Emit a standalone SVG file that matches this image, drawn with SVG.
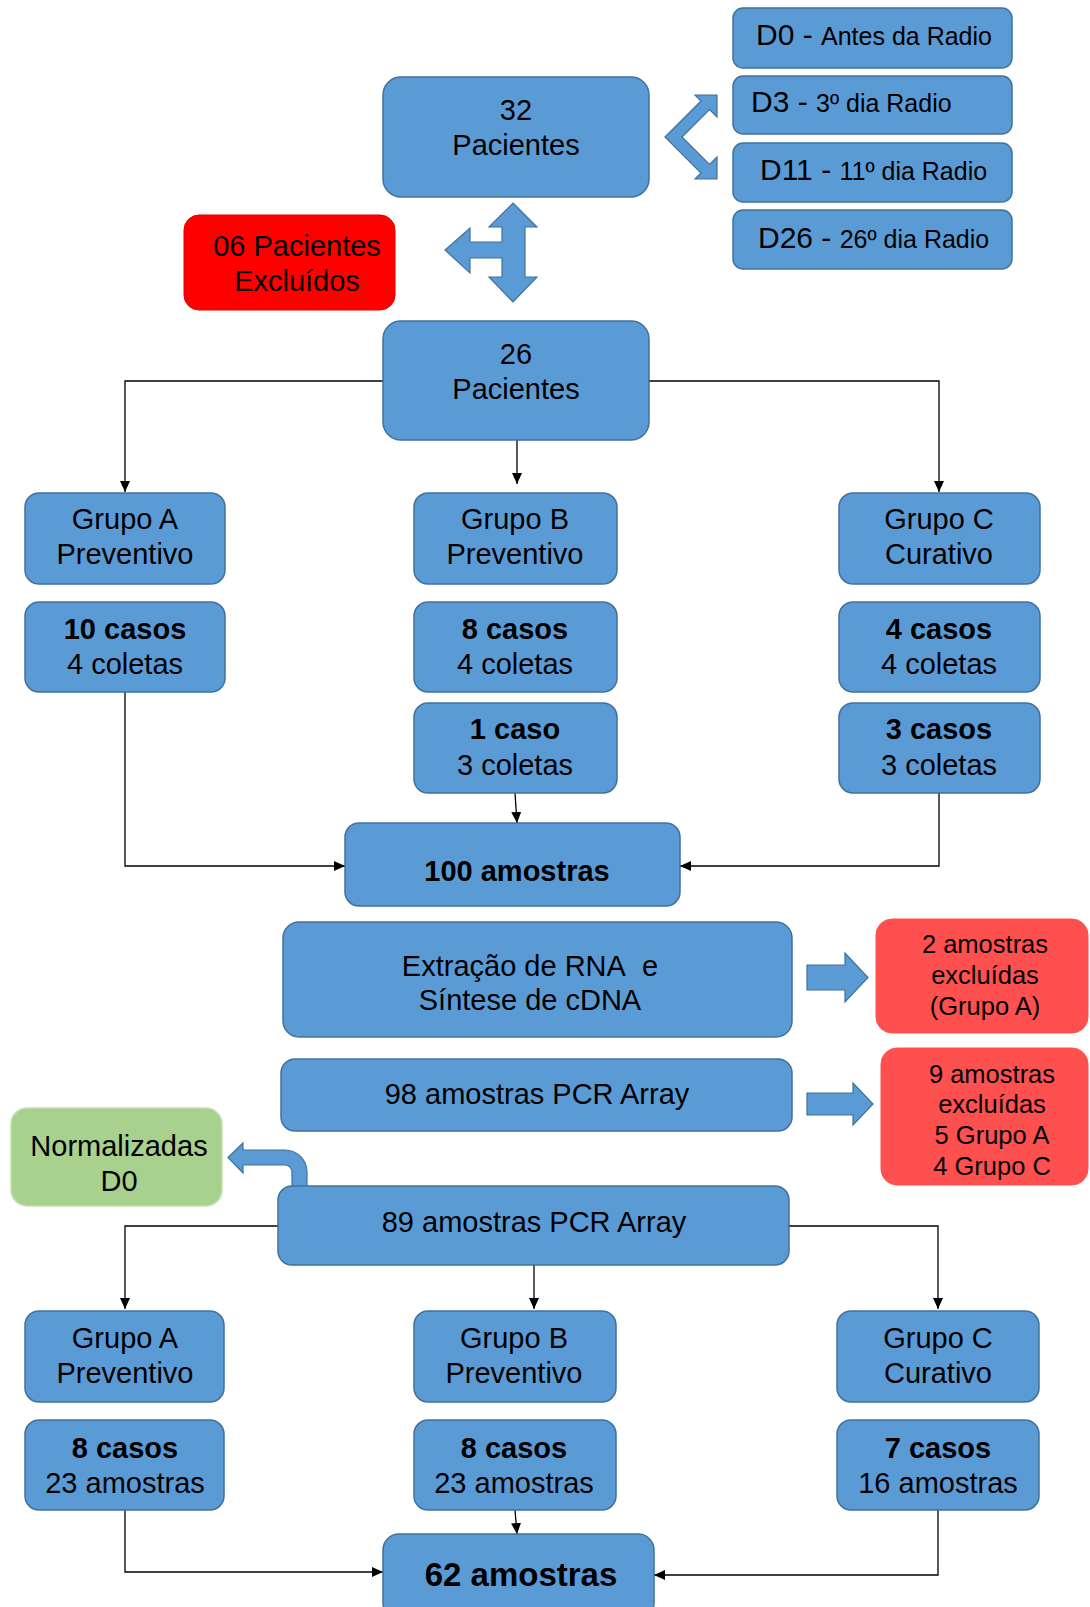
<svg xmlns="http://www.w3.org/2000/svg" width="1090" height="1607" viewBox="0 0 1090 1607">
<style>
.b{fill:#5B9BD5;stroke:#41719C;stroke-width:1.5}
.r1{fill:#FF0000;stroke:#E00000;stroke-width:1}
.r2{fill:#FF5050;stroke:#FF5050;stroke-width:1}
.g{fill:#A9D18E;stroke:#C5E0B4;stroke-width:1.5}
.ba{fill:#5B9BD5;stroke:#41719C;stroke-width:1.2}
text{font-family:"Liberation Sans",Arial,sans-serif;font-size:29px;fill:#000;text-anchor:middle}
.bd{font-weight:bold}
.big{font-size:33px;font-weight:bold}
.sm{font-size:25.5px}
.dl{text-anchor:start;font-size:25px}
.dh{font-size:30px}
.c{fill:none;stroke:#000;stroke-width:1.3}
</style>
<defs>
<marker id="ah" markerUnits="userSpaceOnUse" markerWidth="12" markerHeight="10" refX="11" refY="5" orient="auto">
<path d="M0,0 L11,5 L0,10 Z" fill="#000"/>
</marker>
</defs>
<rect width="1090" height="1607" fill="#fff"/>

<g id="connectors">
<path class="c" d="M383,381 H125 V492" marker-end="url(#ah)"/>
<path class="c" d="M649,381 H939 V492" marker-end="url(#ah)"/>
<path class="c" d="M517,440 V484" marker-end="url(#ah)"/>
<path class="c" d="M125,692 V866 H345" marker-end="url(#ah)"/>
<path class="c" d="M939,793 V866 H680" marker-end="url(#ah)"/>
<path class="c" d="M515,793 L517,823" marker-end="url(#ah)"/>
<path class="c" d="M278,1226 H125 V1309" marker-end="url(#ah)"/>
<path class="c" d="M789,1226 H938 V1309" marker-end="url(#ah)"/>
<path class="c" d="M534,1265 V1309" marker-end="url(#ah)"/>
<path class="c" d="M125,1510 V1572 H383" marker-end="url(#ah)"/>
<path class="c" d="M938,1510 V1575 H654" marker-end="url(#ah)"/>
<path class="c" d="M515,1510 L517,1534" marker-end="url(#ah)"/>
</g>

<g id="block-arrows">
<polygon class="ba" points="665,137 701,101 695,95 717,95 717,117 709.5,109.5 682,137 709.5,164.5 717,157 717,179 695,179 701,173"/>
<polygon class="ba" points="513,203 537,227 525,227 525,277 537,277 513,302 489,277 502,277 502,258 470,258 470,273 445,250 470,228 470,242 502,242 502,227 489,227"/>
<polygon class="ba" points="807,965 845,965 845,953 868,977.5 845,1002 845,990 807,990"/>
<polygon class="ba" points="807,1093 853,1093 853,1083 873,1104 853,1125 853,1115 807,1115"/>
<path class="ba" d="M228,1157.5 L243,1143 L243,1150 L285,1150 A22,22 0 0 1 307,1172 L307,1192 L292,1192 L292,1172 A7,7 0 0 0 285,1165 L243,1165 L243,1173 Z"/>
</g>

<g id="n32">
<rect class="b" x="383" y="77" width="266" height="120" rx="18"/>
<text x="516" y="120">32</text>
<text x="516" y="155">Pacientes</text>
</g>
<g id="d0">
<rect class="b" x="733" y="8" width="279" height="60" rx="10"/>
<text class="dl" x="756" y="45"><tspan class="dh">D0 - </tspan>Antes da Radio</text>
</g>
<g id="d3">
<rect class="b" x="733" y="76" width="279" height="58" rx="10"/>
<text class="dl" x="751" y="112"><tspan class="dh">D3 - </tspan>3º dia Radio</text>
</g>
<g id="d11">
<rect class="b" x="733" y="143" width="279" height="59" rx="10"/>
<text class="dl" x="760" y="180"><tspan class="dh">D11 - </tspan>11º dia Radio</text>
</g>
<g id="d26">
<rect class="b" x="733" y="210" width="279" height="59" rx="10"/>
<text class="dl" x="758" y="248"><tspan class="dh">D26 - </tspan>26º dia Radio</text>
</g>
<g id="excl">
<rect class="r1" x="184" y="215" width="211" height="95" rx="15"/>
<text x="297" y="256">06 Pacientes</text>
<text x="297" y="291">Excluídos</text>
</g>
<g id="n26">
<rect class="b" x="383" y="321" width="266" height="119" rx="18"/>
<text x="516" y="364">26</text>
<text x="516" y="399">Pacientes</text>
</g>

<g id="ga1">
<rect class="b" x="25" y="493" width="200" height="91" rx="14"/>
<text x="125" y="529">Grupo A</text>
<text x="125" y="564">Preventivo</text>
</g>
<g id="gb1">
<rect class="b" x="414" y="493" width="203" height="91" rx="14"/>
<text x="515" y="529">Grupo B</text>
<text x="515" y="564">Preventivo</text>
</g>
<g id="gc1">
<rect class="b" x="839" y="493" width="201" height="91" rx="14"/>
<text x="939" y="529">Grupo C</text>
<text x="939" y="564">Curativo</text>
</g>
<g id="a10">
<rect class="b" x="25" y="602" width="200" height="90" rx="14"/>
<text class="bd" x="125" y="639">10 casos</text>
<text x="125" y="674">4 coletas</text>
</g>
<g id="b8">
<rect class="b" x="414" y="602" width="203" height="90" rx="14"/>
<text class="bd" x="515" y="639">8 casos</text>
<text x="515" y="674">4 coletas</text>
</g>
<g id="c4">
<rect class="b" x="839" y="602" width="201" height="90" rx="14"/>
<text class="bd" x="939" y="639">4 casos</text>
<text x="939" y="674">4 coletas</text>
</g>
<g id="b1">
<rect class="b" x="414" y="703" width="203" height="90" rx="14"/>
<text class="bd" x="515" y="739">1 caso</text>
<text x="515" y="775">3 coletas</text>
</g>
<g id="c3">
<rect class="b" x="839" y="703" width="201" height="90" rx="14"/>
<text class="bd" x="939" y="739">3 casos</text>
<text x="939" y="775">3 coletas</text>
</g>
<g id="n100">
<rect class="b" x="345" y="823" width="335" height="83" rx="14"/>
<text class="bd" x="517" y="881">100 amostras</text>
</g>

<g id="extr">
<rect class="b" x="283" y="922" width="509" height="115" rx="16"/>
<text x="530" y="976">Extração de RNA&#160; e</text>
<text x="530" y="1010">Síntese de cDNA</text>
</g>
<g id="ex2">
<rect class="r2" x="876" y="919" width="212" height="114" rx="16"/>
<text class="sm" x="985" y="953">2 amostras</text>
<text class="sm" x="985" y="984">excluídas</text>
<text class="sm" x="985" y="1015">(Grupo A)</text>
</g>
<g id="n98">
<rect class="b" x="281" y="1059" width="511" height="72" rx="14"/>
<text x="537" y="1104">98 amostras PCR Array</text>
</g>
<g id="ex9">
<rect class="r2" x="881" y="1048" width="207" height="137" rx="16"/>
<text class="sm" x="992" y="1083">9 amostras</text>
<text class="sm" x="992" y="1113">excluídas</text>
<text class="sm" x="992" y="1144">5 Grupo A</text>
<text class="sm" x="992" y="1175">4 Grupo C</text>
</g>
<g id="norm">
<rect class="g" x="11" y="1108" width="211" height="98" rx="16"/>
<text x="119" y="1156">Normalizadas</text>
<text x="119" y="1191">D0</text>
</g>
<g id="n89">
<rect class="b" x="278" y="1186" width="511" height="79" rx="14"/>
<text x="534" y="1232">89 amostras PCR Array</text>
</g>

<g id="ga2">
<rect class="b" x="25" y="1311" width="199" height="91" rx="14"/>
<text x="125" y="1348">Grupo A</text>
<text x="125" y="1383">Preventivo</text>
</g>
<g id="gb2">
<rect class="b" x="414" y="1311" width="202" height="91" rx="14"/>
<text x="514" y="1348">Grupo B</text>
<text x="514" y="1383">Preventivo</text>
</g>
<g id="gc2">
<rect class="b" x="837" y="1311" width="202" height="91" rx="14"/>
<text x="938" y="1348">Grupo C</text>
<text x="938" y="1383">Curativo</text>
</g>
<g id="a8">
<rect class="b" x="25" y="1420" width="199" height="90" rx="14"/>
<text class="bd" x="125" y="1458">8 casos</text>
<text x="125" y="1493">23 amostras</text>
</g>
<g id="b8b">
<rect class="b" x="414" y="1420" width="202" height="90" rx="14"/>
<text class="bd" x="514" y="1458">8 casos</text>
<text x="514" y="1493">23 amostras</text>
</g>
<g id="c7">
<rect class="b" x="837" y="1420" width="202" height="90" rx="14"/>
<text class="bd" x="938" y="1458">7 casos</text>
<text x="938" y="1493">16 amostras</text>
</g>
<g id="n62">
<rect class="b" x="383" y="1534" width="271" height="85" rx="16"/>
<text class="big" x="521" y="1586">62 amostras</text>
</g>
</svg>
